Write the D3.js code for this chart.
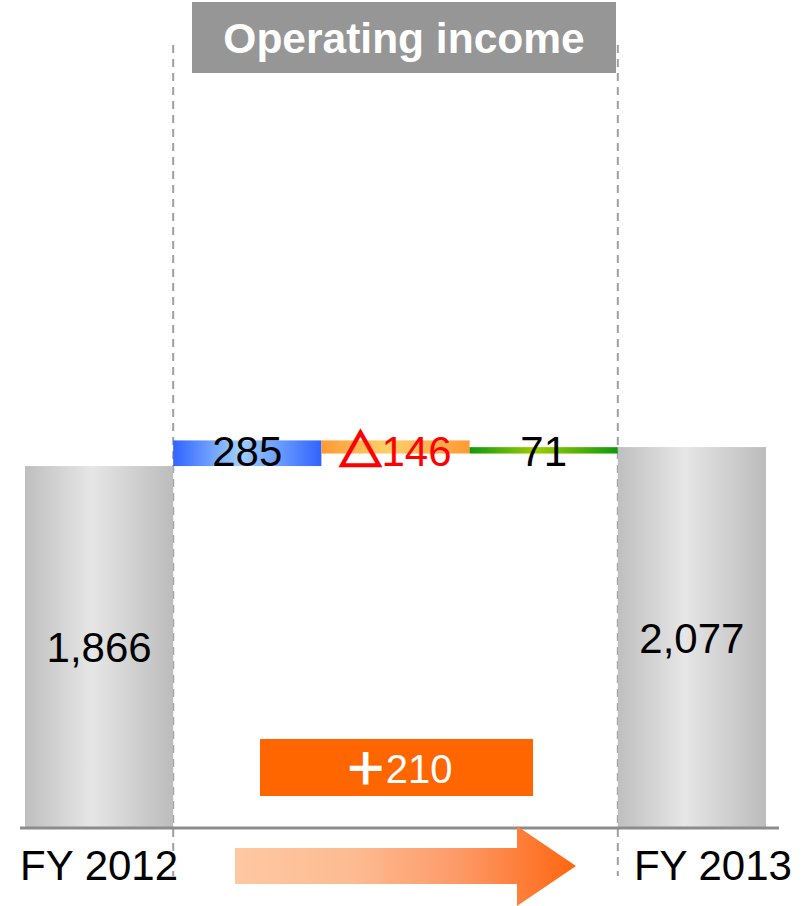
<!DOCTYPE html>
<html>
<head>
<meta charset="utf-8">
<script src="https://cdn.jsdelivr.net/npm/d3@7"></script>
<style>
  html, body { margin: 0; padding: 0; background: #fff; }
  svg { display: block; }
  text { font-family: "Liberation Sans", Arial, "Noto Sans CJK JP", sans-serif; }
</style>
</head>
<body>
<svg id="chart" width="802" height="906"></svg>
<script>
// Operating income bridge, FY 2012 -> FY 2013
const title = "Operating income";
const periods = ["FY 2012", "FY 2013"];
const totals = [1866, 2077];
const stepKeys = ["s1", "s2", "s3"];
const steps = [285, -146, 71];
const stepLabels = ["285", "△146", "71"];
const stepLabelColors = ["#000000", "#ff0000", "#000000"];
const changeLabel = "＋210";

// gradient stops (edge, centre, edge) for each step bar
const stepGradients = [
  ["#3163ff", "#9fd0ff", "#3163ff"],
  ["#ff9a36", "#ffcf6c", "#ff9a36"],
  ["#0f990f", "#9ccc00", "#0f990f"]
];

const W = 802, H = 906;
const baseY = 828;          // axis line (broken value axis below the bars)
const svg = d3.select("#chart");
const defs = svg.append("defs");

const x = d3.scaleBand()
  .domain([periods[0], ...stepKeys, periods[1]])
  .range([25, 766])
  .padding(0);

// value scale around the top of the bars (axis is broken below)
const y = d3.scaleLinear().domain([1800, 2200]).range([472, 436]);

// renders a label; the full-width symbols (△, ＋) get a heavier outline
function richText(sel, str, color) {
  sel.text(null);
  for (const ch of str) {
    const heavy = ch === "△" || ch === "＋";
    const t = sel.append("tspan").text(ch);
    if (heavy) t.attr("stroke", color).attr("stroke-width", 2.6)
      .attr("stroke-linejoin", "miter");
  }
}

// gradients
const grayGrad = defs.append("linearGradient").attr("id", "gGray")
  .attr("x1", "0%").attr("x2", "100%").attr("y1", "0%").attr("y2", "0%");
[["0%", "#bfbfbf"], ["45%", "#e6e6e6"], ["100%", "#bcbcbc"]].forEach(([o, c]) =>
  grayGrad.append("stop").attr("offset", o).attr("stop-color", c));

stepGradients.forEach((g, i) => {
  const lg = defs.append("linearGradient").attr("id", "gStep" + i)
    .attr("x1", "0%").attr("x2", "100%").attr("y1", "0%").attr("y2", "0%");
  lg.append("stop").attr("offset", "0%").attr("stop-color", g[0]);
  lg.append("stop").attr("offset", "45%").attr("stop-color", g[1]);
  lg.append("stop").attr("offset", "100%").attr("stop-color", g[2]);
});

const arrowGrad = defs.append("linearGradient").attr("id", "gArrow")
  .attr("gradientUnits", "userSpaceOnUse")
  .attr("x1", 235).attr("x2", 576).attr("y1", 0).attr("y2", 0);
[["0%", "#fec8a2"], ["35%", "#fdbb91"], ["65%", "#fd9a68"], ["100%", "#ff6610"]].forEach(([o, c]) =>
  arrowGrad.append("stop").attr("offset", o).attr("stop-color", c));

// title box
svg.append("rect").attr("x", 192).attr("y", 2).attr("width", 424).attr("height", 71)
  .attr("fill", "#969696");
svg.append("text").attr("x", 404).attr("y", 53)
  .attr("text-anchor", "middle").attr("fill", "#fff")
  .attr("font-size", 42.5).attr("font-weight", "bold")
  .text(title);

// dashed guide lines at both ends of the bridge
[x(periods[0]) + x.bandwidth(), x(periods[1])].forEach(gx => {
  svg.append("line").attr("x1", gx).attr("x2", gx).attr("y1", 45).attr("y2", 876)
    .attr("stroke", "#a0a0a0").attr("stroke-width", 2).attr("stroke-dasharray", "8,6");
});

// total bars
const totalData = periods.map((p, i) => ({ key: p, value: totals[i] }));
svg.selectAll("rect.total").data(totalData).join("rect")
  .attr("class", "total")
  .attr("x", d => x(d.key))
  .attr("width", x.bandwidth())
  .attr("y", d => y(d.value))
  .attr("height", d => baseY - y(d.value))
  .attr("fill", "url(#gGray)");

svg.selectAll("text.total").data(totalData).join("text")
  .attr("class", "total")
  .attr("x", d => x(d.key) + x.bandwidth() / 2)
  .attr("y", d => (y(d.value) + baseY) / 2 + 15)
  .attr("text-anchor", "middle")
  .attr("font-size", 42).attr("fill", "#000")
  .text(d => d3.format(",")(d.value));

// step bars
let run = totals[0];
const stepData = steps.map((v, i) => {
  const d = { key: stepKeys[i], start: run, end: run + v, i };
  run += v;
  return d;
});
svg.selectAll("rect.step").data(stepData).join("rect")
  .attr("class", "step")
  .attr("x", d => x(d.key))
  .attr("width", x.bandwidth())
  .attr("y", d => y(Math.max(d.start, d.end)))
  .attr("height", d => Math.abs(y(d.start) - y(d.end)))
  .attr("fill", d => `url(#gStep${d.i})`);

svg.selectAll("text.step").data(stepData).join("text")
  .attr("class", "step")
  .attr("x", d => x(d.key) + x.bandwidth() / 2)
  .attr("y", y(totals[0]))
  .attr("text-anchor", "middle")
  .attr("font-size", 42)
  .attr("fill", d => stepLabelColors[d.i])
  .each(function(d) { richText(d3.select(this), stepLabels[d.i], stepLabelColors[d.i]); });

// axis line
svg.append("line").attr("x1", 20).attr("x2", 779).attr("y1", baseY).attr("y2", baseY)
  .attr("stroke", "#8c8c8c").attr("stroke-width", 3);

// period labels
svg.selectAll("text.period").data(periods).join("text")
  .attr("class", "period")
  .attr("x", (d, i) => x(d) + x.bandwidth() / 2 + (i === 1 ? 21 : 0))
  .attr("y", 880)
  .attr("text-anchor", "middle")
  .attr("font-size", 42).attr("fill", "#000")
  .text(d => d);

// overall change box
svg.append("rect").attr("x", 260).attr("y", 739).attr("width", 273).attr("height", 57)
  .attr("fill", "#ff6600");
svg.append("text").attr("x", 399).attr("y", 783)
  .attr("text-anchor", "middle").attr("fill", "#fff")
  .attr("font-size", 40)
  .call(richText, changeLabel, "#fff");

// direction arrow
svg.append("path")
  .attr("d", "M235,848 L517,848 L517,826 L576,866 L517,906 L517,884 L235,884 Z")
  .attr("fill", "url(#gArrow)");
</script>
</body>
</html>
